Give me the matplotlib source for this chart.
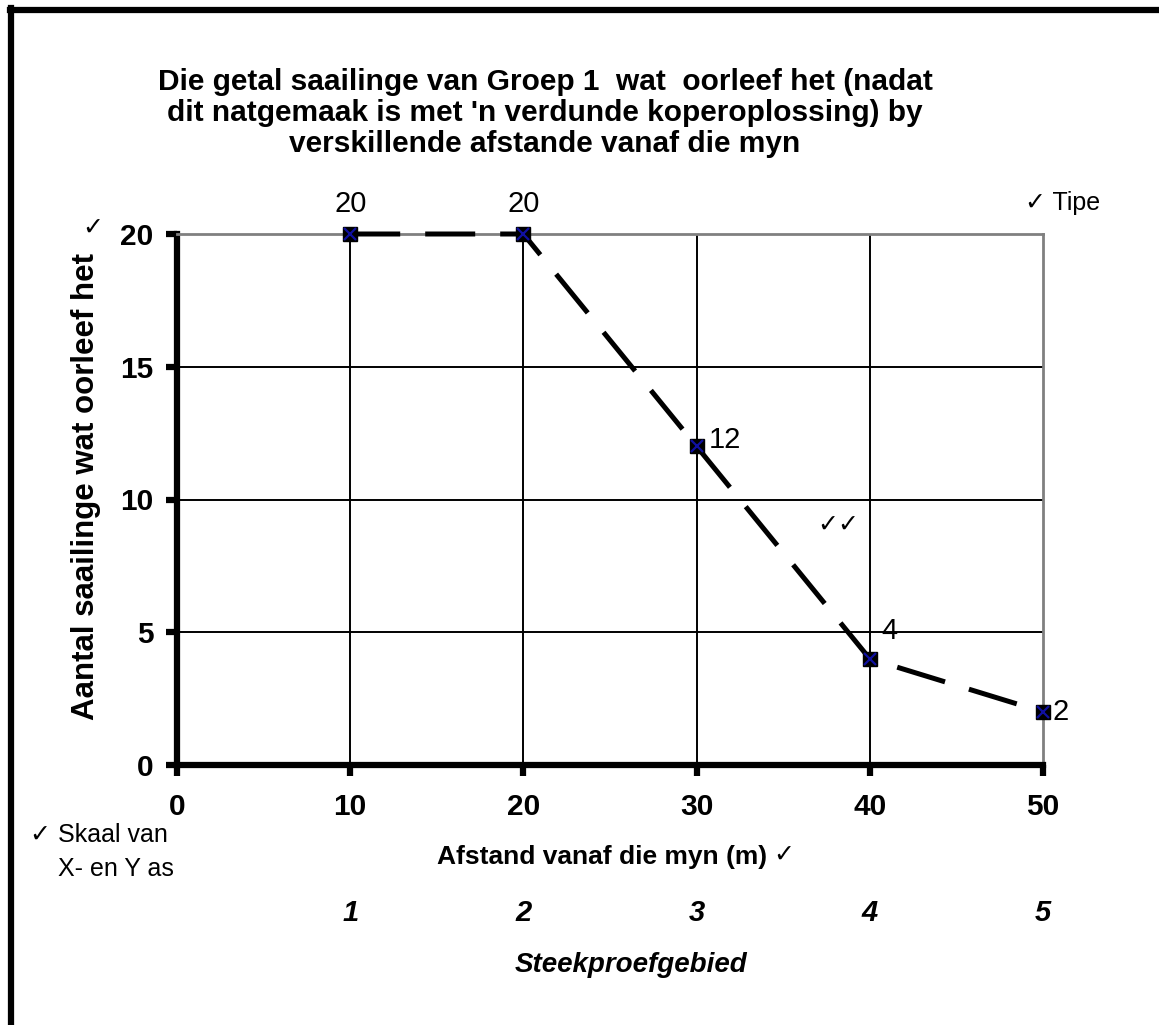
import matplotlib

matplotlib.use("Agg")

import matplotlib.pyplot as plt
from matplotlib.lines import Line2D

plt.rcParams["font.family"] = ["Liberation Sans", "DejaVu Sans"]

# data
afstand = [10, 20, 30, 40, 50]
saailinge = [20, 20, 12, 4, 2]
gebied = ["1", "2", "3", "4", "5"]
x_ticks = [0, 10, 20, 30, 40, 50]
y_ticks = [0, 5, 10, 15, 20]

title = ("Die getal saailinge van Groep 1  wat  oorleef het (nadat\n"
         "dit natgemaak is met 'n verdunde koperoplossing) by\n"
         "verskillende afstande vanaf die myn")

fig = plt.figure(figsize=(11.59, 10.25), dpi=100)
ax = fig.add_axes([177 / 1159, 1 - 765 / 1025, (1043 - 177) / 1159, (765 - 234) / 1025])

ax.set_xlim(0, 50)
ax.set_ylim(0, 20)
ax.set_xticks(x_ticks)
ax.set_yticks(y_ticks)

for v in x_ticks[1:-1]:
    ax.axvline(v, color="black", lw=1.4, zorder=1)
for v in y_ticks[1:-1]:
    ax.axhline(v, color="black", lw=1.4, zorder=1)

ax.plot(afstand, saailinge, color="black", lw=3.6, dashes=(10, 5),
        zorder=3, clip_on=False)
ax.plot(afstand, saailinge, ls="none", marker="s", ms=10.5, mfc="black",
        mec="black", zorder=4, clip_on=False)
ax.plot(afstand, saailinge, ls="none", marker="x", ms=9, mec="#1010a0",
        mew=1.6, zorder=5, clip_on=False)

offsets = [(0, 30, "center"), (0, 30, "center"), (12, 6, "left"), (12, 28, "left"), (10, 0, "left")]
for x, y, (dx, dy, ha) in zip(afstand, saailinge, offsets):
    ax.annotate(f"{y}", (x, y), xytext=(dx, dy), textcoords="offset pixels",
                ha=ha, va="center", fontsize=21, annotation_clip=False)

for side in ("top", "right"):
    ax.spines[side].set_color("#808080")
    ax.spines[side].set_linewidth(2.0)
for side in ("left", "bottom"):
    ax.spines[side].set_color("black")
    ax.spines[side].set_linewidth(4.5)

ax.tick_params(direction="out", length=8, width=4.5, color="black",
               labelsize=21.5, pad=12)
ax.tick_params(axis="y", pad=9)
for lab in ax.get_xticklabels() + ax.get_yticklabels():
    lab.set_fontweight("bold")

ax.set_ylabel("Aantal saailinge wat oorleef het", fontsize=22.5,
              fontweight="bold", labelpad=14)
ax.yaxis.label.set_y((765 - 487) / (765 - 234))

fig.text(545 / 1159, 1 - 113 / 1025, title, ha="center", va="center",
         fontsize=21.5, fontweight="bold", linespacing=1.14)

# secondary row: sample areas under the distance ticks
for x, g in zip(afstand, gebied):
    xd = ax.transData.transform((x, 0))[0] / fig.bbox.width
    fig.text(xd, 1 - 913 / 1025, g, ha="center", va="center", fontsize=21,
             fontweight="bold", style="italic")

fig.text(602 / 1159, 1 - 857 / 1025, "Afstand vanaf die myn (m)", ha="center",
         va="center", fontsize=19, fontweight="bold")
fig.text(773 / 1159, 1 - 855 / 1025, "\u2713", ha="left", va="center", fontsize=18)
fig.text(631 / 1159, 1 - 965 / 1025, "Steekproefgebied", ha="center",
         va="center", fontsize=20, fontweight="bold", style="italic")

# marking ticks
fig.text(1025 / 1159, 1 - 203 / 1025, "\u2713 Tipe", ha="left", va="center", fontsize=18)
fig.text(82 / 1159, 1 - 228 / 1025, "\u2713", ha="left", va="center", fontsize=18)
fig.text(817 / 1159, 1 - 525 / 1025, "\u2713\u2713", ha="left", va="center", fontsize=18)
fig.text(30 / 1159, 1 - 835 / 1025, "\u2713 Skaal van", ha="left", va="center", fontsize=18)
fig.text(58 / 1159, 1 - 869 / 1025, "X- en Y as", ha="left", va="center", fontsize=18)

# frame around the page (top and left only)
fig.add_artist(Line2D([10 / 1159, 1], [1 - 10 / 1025, 1 - 10 / 1025],
                      transform=fig.transFigure, color="black", lw=4.5))
fig.add_artist(Line2D([11 / 1159, 11 / 1159], [0, 1 - 8 / 1025],
                      transform=fig.transFigure, color="black", lw=4.5))

fig.savefig("out.png", dpi=100)
